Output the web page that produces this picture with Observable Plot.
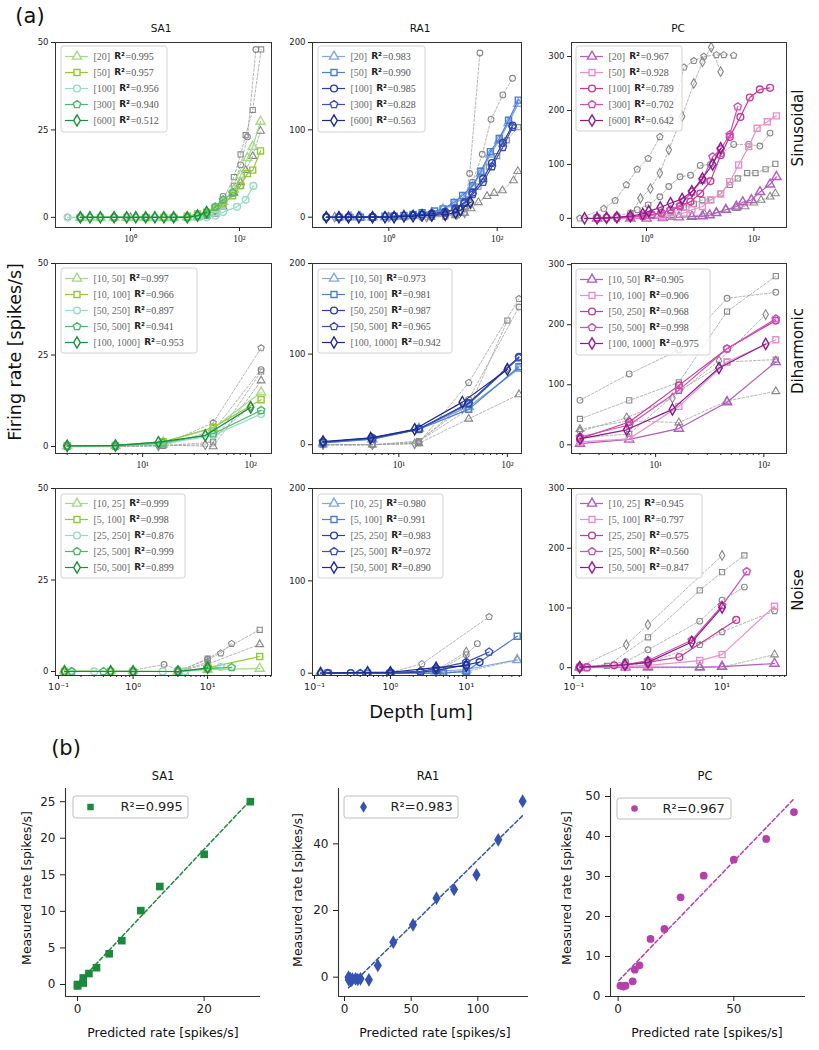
<!DOCTYPE html>
<html><head><meta charset="utf-8">
<script src="https://cdn.jsdelivr.net/npm/d3@7"></script>
<script src="https://cdn.jsdelivr.net/npm/@observablehq/plot@0.6"></script>
<style>
body{margin:0;background:#fff;}
#fig{position:relative;width:819px;height:1050px;overflow:hidden;font-family:"DejaVu Sans",sans-serif;color:#111;}
</style></head><body><div id="fig"></div>
<script>
// ---------- legend labels ----------
const sinRanges = ["[20]","[50]","[100]","[300]","[600]"];
const diRanges = ["[10, 50]","[10, 100]","[50, 250]","[50, 500]","[100, 1000]"];
const noiseRanges = ["[10, 25]","[5, 100]","[25, 250]","[25, 500]","[50, 500]"];
const sa1SinR2 = ["0.995","0.957","0.956","0.940","0.512"];
const ra1SinR2 = ["0.983","0.990","0.985","0.828","0.563"];
const pcSinR2  = ["0.967","0.928","0.789","0.702","0.642"];
const sa1DiR2  = ["0.997","0.966","0.897","0.941","0.953"];
const ra1DiR2  = ["0.973","0.981","0.987","0.965","0.942"];
const pcDiR2   = ["0.905","0.906","0.968","0.998","0.975"];
const sa1NoR2  = ["0.999","0.998","0.876","0.999","0.899"];
const ra1NoR2  = ["0.980","0.991","0.983","0.972","0.890"];
const pcNoR2   = ["0.945","0.797","0.575","0.560","0.847"];

// ---------- (a) SA1 Sinusoidal ----------
const sa1SinA = [[0.12,0],[0.18,0],[0.28,0],[0.5,0],[0.85,0],[1.25,0],[1.9,0],[2.8,0],[4.1,0],[6.2,0],[11,0],[17,0.3],[25,1],[36,2.5],[50,4.5],[79,8],[105,12],[140,17],[175,20.2],[243,27.4]];
const sa1SinB = [[0.12,0],[0.28,0],[0.85,0],[1.9,0],[4.1,0],[6.2,0],[11,0.3],[17,1],[25,1.5],[36,2.9],[50,3.8],[75,6.2],[105,9.1],[140,12.5],[175,13.5],[243,19]];
const sa1SinC = [[0.07,0],[0.12,0],[0.28,0],[0.85,0],[2.8,0],[6.2,0],[11,0],[17,0],[25,0],[36,0.5],[50,1.5],[90,3],[130,5],[180,9]];
const sa1SinD = [[0.12,0],[0.5,0],[1.9,0],[6.2,0],[11,0],[17,0.5],[25,1],[36,3],[50,5],[75,7]];
const sa1SinE = [[0.12,0],[0.18,0],[0.28,0],[0.5,0],[0.85,0],[1.25,0],[1.9,0],[2.8,0],[4.1,0],[6.2,0],[11,0],[17,0.5],[25,1.5]];
const sa1SinG1 = [[0.12,0],[0.5,0],[2,0],[6,0],[11,0],[17,0],[25,0.5],[36,2],[50,5],[79,11.5],[105,18],[130,23.5],[175,30.7],[250,48]];
const sa1SinG2 = [[0.07,0],[0.28,0],[1.25,0],[4.1,0],[11,0],[17,0],[25,0.5],[36,2.5],[50,6],[79,9],[105,15],[140,23],[200,48]];
const sa1SinG3 = [[0.12,0],[1,0],[4,0],[11,0],[17,0],[25,0.3],[36,1],[50,3],[79,7],[105,10],[130,13.5],[175,17.5],[243,24.7]];
const sa1SinG4 = [[0.18,0],[1.9,0],[11,0],[25,0.5],[36,2],[50,4],[79,7],[105,9]];
const sa1SinG5 = [[0.12,0],[0.85,0],[6.2,0],[17,0.5],[25,1],[36,2]];

// ---------- (a) RA1 Sinusoidal ----------
const ra1SinA = [[0.12,0],[0.2,0],[0.3,0],[0.5,0],[0.85,0],[1.25,1],[1.9,1],[2.8,2],[4.1,3],[6.2,5],[10,9],[16,15],[23,22],[35,35],[50,50],[75,72],[109,88],[162,108],[245,130]];
const ra1SinB = [[0.12,0],[0.3,0],[0.5,0],[0.85,1],[1.25,1],[1.9,2],[2.8,3],[4.1,5],[7,7],[10,9.5],[16,17],[23,25],[35,36],[50,52.6],[75,75],[109,90],[162,111],[245,134]];
const ra1SinC = [[0.07,0],[0.18,0],[0.5,0],[1.25,1],[2.8,2],[4.1,3],[6.2,4],[11,6],[17,10],[25,17],[35,28],[55,44],[80,62],[127,85],[192,105]];
const ra1SinD = [[0.12,0],[0.5,0],[1.25,1],[2.8,2],[6.2,3],[11,5],[17,9],[25,16],[35,26],[55,40],[80,58],[127,80],[192,103]];
const ra1SinE = [[0.07,0],[0.12,0],[0.18,0],[0.28,0],[0.5,0],[0.85,0],[1.25,0],[1.9,1],[2.8,1],[4.1,2],[6.2,2],[11,3],[17,5],[21,8],[32,17]];
const ra1SinG1 = [[0.07,0],[0.5,0],[2,0],[6,0],[11,1],[17,3],[25,10],[31,50],[48,188]];
const ra1SinG2 = [[0.12,0],[1,0],[4,0],[11,1],[17,3],[25,12],[35,40],[53,72],[77,112],[127,140],[192,159]];
const ra1SinG3 = [[0.12,0],[1,0],[6,0],[17,2],[25,5],[33,10],[45,17],[65,24],[88,27.6],[125,30.5],[200,42],[240,52.6]];
const ra1SinG4 = [[0.2,0],[2,0],[11,1],[20,5],[30,20],[45,35],[70,58],[100,70],[150,88],[245,103]];
const ra1SinG5 = [[0.1,0],[1,0],[5,0],[11,1],[18,3],[25,5],[32,15]];

// ---------- (a) PC Sinusoidal ----------
const pcSinA = [[0.12,0],[0.5,0],[1,0],[2,1],[4,2],[7,3],[11,4],[15,6],[20,10],[30,16],[47,22],[62,30],[90,34],[130,49],[200,63],[263,77]];
const pcSinB = [[0.12,0],[0.5,0],[1,1],[2,3],[3,5],[5,10],[7,16],[11,22],[15.5,34],[24,45],[35.5,68],[52,99],[80,133],[115,167],[178,179],[263,190]];
const pcSinC = [[0.12,1],[0.18,1],[0.28,2],[0.5,3],[0.85,5],[1.25,7],[1.9,10],[2.8,15],[4.2,22],[6.6,31],[10,46],[15.5,69],[24,117],[35.5,151],[56,188],[84,224],[129,239],[200,242]];
const pcSinD = [[0.12,0],[0.28,1],[0.5,2],[0.85,4],[1.25,6],[1.9,10],[2.8,16],[4.2,24],[5,33],[7,49],[11,71],[17,114],[24,128],[35.5,155],[50,207]];
const pcSinE = [[0.07,0],[0.12,0],[0.18,1],[0.28,2],[0.5,4],[0.85,8],[1.1,13],[1.8,20],[2.8,28],[4.6,36],[7,50],[11,74],[17,100],[24,130]];
const pcSinG1 = [[0.057,0],[0.16,18],[0.26,33],[0.42,62],[0.67,91],[1.07,111],[1.77,151],[2.8,185],[5,280],[7.6,292],[11.7,300],[20,303],[27.5,303],[42,302]];
const pcSinG2 = [[0.5,5],[0.77,37],[1.18,55],[1.77,84],[2.6,127],[4.6,189],[7.6,250],[11,290],[16,317],[24,272]];
const pcSinG3 = [[0.12,0],[0.28,5],[0.5,10],[0.67,16],[1.07,25],[1.77,40],[2.6,59],[4.2,77],[6.6,80],[10,98],[15.5,100],[25,120],[42,137],[80,137],[129,134],[200,158]];
const pcSinG4 = [[0.5,2],[1.07,5],[2.8,10],[5,20],[7.6,27],[11,34],[16,34],[24,46],[35.5,62],[50,74],[75,84],[107,84],[165,91],[251,101]];
const pcSinG5 = [[0.12,0],[1,0],[3,2],[7,4],[12,8],[20,10],[30,16],[47,19],[68,22],[100,29],[136,34],[200,40],[251,46]];

// ---------- (a) SA1 Diharmonic ----------
const sa1DiA = [[2,0.2],[5.6,0.3],[15.5,1.2],[45,5],[125,14.8]];
const sa1DiB = [[2,0.2],[5.6,0.3],[15.5,1.3],[45,5.2],[125,12.8]];
const sa1DiC = [[2,0.1],[5.6,0.2],[15.5,0.8],[45,3],[125,8.9]];
const sa1DiD = [[2,0.1],[5.6,0.2],[15.5,1],[45,3.5],[125,9.9]];
const sa1DiE = [[2,0.2],[5.6,0.3],[14,1.2],[38,3],[100,10.7]];
const sa1DiG1 = [[2,0],[5.6,0],[15.5,0.5],[45,6.5],[125,26.9]];
const sa1DiG2 = [[2,0],[5.6,0],[15.5,0.3],[45,4.3],[125,21]];
const sa1DiG3 = [[2,0],[5.6,0],[15.5,0.2],[45,1.2],[125,20.5]];
const sa1DiG4 = [[2,0],[5.6,0.2],[15.5,0.5],[45,0],[125,18]];
const sa1DiG5 = [[2,0],[5.6,0],[14,0.2],[38,0.5],[100,11]];

// ---------- (a) RA1 Diharmonic ----------
const ra1DiA = [[2,2],[5.7,6],[15.3,18],[44,42],[128,84]];
const ra1DiB = [[2,2],[5.7,6],[15.3,17],[44,39],[128,86]];
const ra1DiC = [[2,3],[5.7,7.4],[15.3,17.4],[44,46],[128,97]];
const ra1DiD = [[2,3],[5.7,7],[15.3,17],[44,45],[128,96]];
const ra1DiE = [[2,3.5],[5.5,7.5],[14,17],[38.5,47],[100,83]];
const ra1DiG1 = [[2,0],[5.7,0],[15.3,2],[44,68.5],[128,161]];
const ra1DiG2 = [[2,0],[5.7,0],[15.3,3],[44,50],[128,152]];
const ra1DiG3 = [[2,0],[5.7,0],[15.3,4],[44,39],[100,137]];
const ra1DiG4 = [[2,0],[5.7,0],[15.3,1.5],[44,28.5],[128,55.5]];
const ra1DiG5 = [[2,0],[5.7,0],[14,1],[38.5,40],[100,85]];

// ---------- (a) PC Diharmonic ----------
const pcDiA = [[2,2],[5.7,9],[16.4,27],[45.7,71],[129,138]];
const pcDiB = [[2,5],[5.7,10],[16.4,64],[45.7,138],[129,175]];
const pcDiC = [[2,10],[5.7,38],[16.4,99],[45.7,160],[129,207]];
const pcDiD = [[2,13],[5.7,33],[16.4,91],[45.7,160],[129,210]];
const pcDiE = [[2,10],[5.4,25],[14.3,59],[38.5,128],[104,168]];
const pcDiG1 = [[2,74],[5.7,118],[16.4,158],[45.7,244],[129,254]];
const pcDiG2 = [[2,43],[5.7,74],[16.4,104],[45.7,222],[129,281]];
const pcDiG3 = [[2,22],[5.4,45],[14.3,78],[38.5,140],[104,217]];
const pcDiG4 = [[2,26],[5.7,40],[16.4,37],[45.7,73],[129,89]];
const pcDiG5 = [[2,12],[5.7,18],[16.4,90],[45.7,138],[129,142]];

// ---------- (a) SA1 Noise ----------
const sa1NoA = [[0.12,0.3],[0.5,0.2],[1,0.2],[4,0],[10,0.5],[50,0.8]];
const sa1NoB = [[0.12,0],[0.5,0],[1,0],[5,0],[10,1],[50,4.1]];
const sa1NoC = [[0.15,0],[0.3,0],[1,0],[2.5,0],[5,0],[15,1.2]];
const sa1NoD = [[0.15,0],[0.4,0],[1,0],[4,0],[10,0.8],[21,1.1]];
const sa1NoE = [[0.12,0],[0.5,0],[1,0],[4,0],[10,1]];
const sa1NoG1 = [[0.12,0],[1,0],[4,0],[10,3.5],[50,11.4]];
const sa1NoG2 = [[0.12,0],[1,0],[4,0],[10,3.3],[15,5],[21,7.6]];
const sa1NoG3 = [[0.15,0],[1,0.3],[2.6,1.9],[4,0.5]];
const sa1NoG4 = [[0.12,0],[1,0],[4,0],[10,2],[50,7.4]];
const sa1NoG5 = [[0.12,0],[0.5,0],[1,0],[4,0],[10,2.5]];

// ---------- (a) RA1 Noise ----------
const ra1NoA = [[0.12,1],[0.5,0],[1,0],[4,2],[10,4],[47,14.5]];
const ra1NoB = [[0.15,0],[0.5,0],[1,0],[5,0],[10,2],[47,40]];
const ra1NoC = [[0.15,0],[0.3,0],[1,0],[2.5,1],[4,3],[10,9],[15,12]];
const ra1NoD = [[0.15,0],[0.4,0],[1,1],[2.5,2],[4,5],[10,12],[20,23]];
const ra1NoE = [[0.12,0],[0.5,1],[1,1],[4,6],[10,8]];
const ra1NoG1 = [[0.15,0],[0.4,0],[1,1],[2.6,10],[20,61]];
const ra1NoG2 = [[0.15,0],[1,0],[4,2],[10,20],[14,32]];
const ra1NoG3 = [[0.12,0],[1,0],[4,3],[10,23]];
const ra1NoG4 = [[0.12,0],[1,0],[5,1],[10,3]];
const ra1NoG5 = [[0.12,0],[1,0],[5,0],[10,2],[47,14]];

// ---------- (a) PC Noise ----------
const pcNoA = [[0.12,1],[0.5,1],[1,1],[5,1],[10,2],[51,7]];
const pcNoB = [[0.12,1],[0.5,2],[1,4],[5,12],[10,22],[51,103]];
const pcNoC = [[0.12,1],[0.15,1],[0.35,4],[1,9],[2.66,18],[15.5,80]];
const pcNoD = [[0.12,0],[0.15,0],[0.49,5],[1,12],[3.9,46],[10,104],[21.5,161]];
const pcNoE = [[0.12,1],[0.49,5],[1,9],[3.9,43],[10,101]];
const pcNoG1 = [[0.12,2],[0.51,38.5],[1,72],[10,188]];
const pcNoG2 = [[0.12,0],[0.28,3],[1,51],[5,129.5],[10,160],[20,188]];
const pcNoG3 = [[0.12,0],[0.5,10],[1,30],[5,78],[10,113],[20,135]];
const pcNoG4 = [[0.12,0],[0.5,3],[1,8],[5,38.5],[10,60],[51,95]];
const pcNoG5 = [[0.12,0],[0.5,0],[1,0],[5,0],[10,1],[51,22]];

// ---------- (b) predicted vs measured ----------
const sa1Pred = [0, 0, 0.9, 0.9, 1.8, 3, 5, 7, 10, 13, 20, 27.3];
const sa1Meas = [-0.2, 0, 0.2, 0.9, 1.5, 2.3, 4.2, 6, 10.1, 13.4, 17.8, 25];
const ra1Pred = [3, 3.2, 4.5, 5, 6, 8.3, 10, 12, 18.3, 25, 36.6, 51.4, 69, 82.2, 99, 115.3, 133.6];
const ra1Meas = [0, -0.8, -0.5, -1, -0.6, -0.5, -0.7, -0.5, -0.8, 3.5, 10.5, 15.7, 23.7, 26.3, 30.7, 41.2, 52.8];
const pcPred = [1, 2.2, 3.2, 6.3, 7.2, 9.2, 14, 20, 27, 37, 50, 64, 76];
const pcMeas = [2.7, 2.5, 2.7, 3.8, 6.7, 7.8, 14.4, 16.9, 24.8, 30.2, 34.2, 39.4, 46.1];
// fitted lines (end points)
const sa1Fit = [[0, 0.1], [27.3, 25.2]];
const ra1Fit = [[3, -3.2], [133.6, 48.5]];
const pcFit = [[0.3, 4], [76, 49.4]];
const bR2 = ["0.995", "0.983", "0.967"];

// ---------- styling ----------
const sa1Colors = ["#a3da8a", "#93c83a", "#95dcc6", "#4db86a", "#16913a"];
const ra1Colors = ["#82a8e0", "#4a7ed0", "#2a3ea8", "#3b4fb6", "#1c2a8e"];
const pcColors  = ["#b25cc0", "#e891c9", "#c8389a", "#d44fb2", "#8a1a8c"];

const pentagon = { draw(ctx, size) {
  const r = Math.sqrt(size / 2.3776);
  for (let i = 0; i < 5; i++) { const a = -Math.PI/2 + i*2*Math.PI/5; const x = r*Math.cos(a), y = r*Math.sin(a); if (i) ctx.lineTo(x, y); else ctx.moveTo(x, y); }
  ctx.closePath(); } };
const thinDiamond = { draw(ctx, size) {
  const h = Math.sqrt(size / 1.2), w = h * 0.6;
  ctx.moveTo(0, -h); ctx.lineTo(w, 0); ctx.lineTo(0, h); ctx.lineTo(-w, 0); ctx.closePath(); } };
const SYM = ["triangle", "square", "circle", pentagon, "diamond"];

const SUP = {"-":"⁻","0":"⁰","1":"¹","2":"²","3":"³"};
const pow10 = d => "10" + String(Math.round(Math.log10(d))).split("").map(c => SUP[c]).join("");

const fig = document.getElementById("fig");
const mctx = document.createElement("canvas").getContext("2d");
function textW(t, font) { mctx.font = font; return mctx.measureText(t).width; }
function place(el, left, top) { el.style.position = "absolute"; el.style.left = left + "px"; el.style.top = top + "px"; el.style.maxWidth = "none"; fig.appendChild(el); }
function label(text, cx, cy, size, rot, font, color) {
  const d = document.createElement("div");
  d.textContent = text;
  d.style.cssText = `position:absolute;left:${cx}px;top:${cy}px;white-space:nowrap;font-size:${size}px;line-height:1;transform:translate(-50%,-50%)${rot ? ` rotate(${rot}deg)` : ""};font-family:${font || '"DejaVu Sans"'};color:${color || "#111"}`;
  fig.appendChild(d);
}
const baseStyle = {fontFamily: '"DejaVu Sans", sans-serif', fontSize: "9px", color: "#222", background: "transparent", overflow: "visible"};
const X = d => d[0], Y = d => d[1];

function panelA(cfg) {
  const [l, r] = cfg.cols, [t, b] = cfg.rows;
  const ml = 42, mr = 4, mt = 4, mb = 26;
  const inDom = v => v >= cfg.xDomain[0] && v <= cfg.xDomain[1];
  const marks = [];
  cfg.grays.forEach(g => {
    marks.push(Plot.line(g.data, {x: X, y: Y, stroke: "#a2a2a2", strokeWidth: 0.8, strokeDasharray: "2.5,1.8", clip: true}));
    marks.push(Plot.dot(g.data, {x: X, y: Y, symbol: g.sym, r: 2.9, stroke: "#888", strokeWidth: 1.1, fill: "none", clip: true}));
  });
  cfg.series.forEach((s, i) => {
    marks.push(Plot.line(s, {x: X, y: Y, stroke: cfg.colors[i], strokeWidth: 1.2, clip: true}));
    marks.push(Plot.dot(s, {x: X, y: Y, symbol: SYM[i], r: 3.4, stroke: cfg.colors[i], strokeWidth: 1.4, fill: "none", clip: true}));
  });
  marks.push(Plot.frame({stroke: "#333", strokeWidth: 1}));
  marks.push(Plot.axisY({ticks: cfg.yTicks, tickSize: 4, tickPadding: 3, fontSize: 8.5, label: null}));
  marks.push(Plot.axisX({ticks: cfg.xTicks.filter(inDom), tickSize: 4, tickPadding: 4, tickFormat: pow10, fontSize: 9.5, fontFamily: cfg.xFont, label: null}));
  if (cfg.minor) marks.push(Plot.axisX({ticks: cfg.minor.filter(inDom), tickSize: 2, tickFormat: () => "", label: null}));
  const p = Plot.plot({
    width: r - l + ml + mr, height: b - t + mt + mb,
    marginLeft: ml, marginRight: mr, marginTop: mt, marginBottom: mb,
    x: {type: "log", domain: cfg.xDomain}, y: {domain: cfg.yDomain},
    style: baseStyle, marks
  });
  place(p, l - ml, t - mt);
  legendA(cfg.legend, cfg.ranges, cfg.r2, cfg.colors);
}

function legendA(box, ranges, r2, colors) {
  const [x0, y0, w, h] = box;
  const rangeFont = '10px "Liberation Serif"';
  const rFont = 'bold 9px "DejaVu Sans"';
  const entries = ranges.map((rg, i) => ({rg, r2: r2[i]}));
  const xR = d => 33 + textW(d.rg, rangeFont) + 4;
  const xEq = d => xR(d) + textW("R²", rFont) + 0.5;
  const marks = [Plot.frame({fill: "white", fillOpacity: 0.8, stroke: "#d2d2d2", rx: 2.5, inset: 0.5})];
  entries.forEach((e, i) => {
    marks.push(Plot.ruleY([e], {y: "rg", x1: 5, x2: 28, stroke: colors[i], strokeWidth: 1.2}));
    marks.push(Plot.dot([e], {y: "rg", x: 16.5, symbol: SYM[i], r: 3.4, stroke: colors[i], strokeWidth: 1.4, fill: "white"}));
  });
  marks.push(Plot.text(entries, {y: "rg", x: 33, text: "rg", textAnchor: "start", fill: "#6a6a6a", fontFamily: "Liberation Serif", fontSize: 10}));
  marks.push(Plot.text(entries, {y: "rg", x: xR, text: () => "R²", textAnchor: "start", fill: "#222", fontWeight: "bold", fontSize: 9}));
  marks.push(Plot.text(entries, {y: "rg", x: xEq, text: d => "=" + d.r2, textAnchor: "start", fill: "#555", fontFamily: "Liberation Serif", fontSize: 10}));
  const p = Plot.plot({width: w, height: h, margin: 0,
    x: {domain: [0, w], range: [0, w], axis: null},
    y: {type: "point", domain: ranges, range: [10, h - 11], padding: 0, axis: null},
    style: baseStyle, marks});
  place(p, x0, y0);
}

function panelB(cfg) {
  const ml = 48, mr = 6, mt = 4, mb = 26;
  const W = cfg.right - cfg.left + ml + mr, H = cfg.bottom - cfg.top + mt + mb;
  const pts = cfg.pred.map((v, i) => ({pv: v, mv: cfg.meas[i]}));
  const chart = Plot.plot({
    width: W, height: H,
    marginLeft: ml, marginRight: mr, marginTop: mt, marginBottom: mb,
    x: {type: "linear", domain: cfg.xDomain}, y: {type: "linear", domain: cfg.yDomain},
    style: baseStyle,
    marks: [
      Plot.ruleX([cfg.xDomain[0]], {stroke: "#333", strokeWidth: 1.1}),
      Plot.ruleY([cfg.yDomain[0]], {stroke: "#333", strokeWidth: 1.1}),
      Plot.line(cfg.fit, {x: X, y: Y, stroke: cfg.color, strokeWidth: 1.5, strokeDasharray: "4,2.5"}),
      Plot.dot(pts, {x: "pv", y: "mv", symbol: cfg.sym, r: cfg.size, fill: cfg.color}),
      Plot.axisX({ticks: cfg.xTicks, tickSize: 5, tickPadding: 3, fontSize: 12, label: null}),
      Plot.axisY({ticks: cfg.yTicks, tickSize: 5, tickPadding: 5, fontSize: 12, label: null})
    ]
  });
  place(chart, cfg.left - ml, cfg.top - mt);
  const [x0, y0, w, h] = cfg.legend;
  const lg = Plot.plot({width: w, height: h, margin: 0,
    x: {domain: [0, w], range: [0, w], axis: null}, y: {domain: [0, 1], range: [h, 0], axis: null},
    style: baseStyle,
    marks: [
      Plot.frame({fill: "white", stroke: "#bdbdbd", rx: 2.5, inset: 0.5}),
      Plot.dot([0], {x: cfg.legMarker, y: 0.5, symbol: cfg.sym, r: cfg.size * 0.85, fill: cfg.color}),
      Plot.text(["R²=" + cfg.r2], {x: cfg.legText, y: 0.5, text: d => d, textAnchor: "start", fontSize: 13, fill: "#222"})
    ]});
  place(lg, x0, y0);
}

// ---------- layout ----------
const COLS = {SA1: [55, 271], RA1: [312, 521], PC: [571, 786]};
const ROWS = {sin: [42, 227], di: [263, 453], noise: [488, 675]};
const minor2 = [2,3,4,5,6,7,8,9,20,30,40,50,60,70,80,90,200];
const minor3 = [0.2,0.3,0.4,0.5,0.6,0.7,0.8,0.9,2,3,4,5,6,7,8,9,20,30,40,50,60,70];
const serif = "Liberation Serif";

function safe(fn, y) { try { fn(); } catch (e) { label("ERR: " + e.message, 400, y, 10, 0, null, "red"); } }

safe(() => panelA({cols: COLS.SA1, rows: ROWS.sin, xDomain: [0.042, 387], yDomain: [-2.9, 50], yTicks: [0,25,50], xTicks: [1,100], xFont: serif,
  series: [sa1SinA, sa1SinB, sa1SinC, sa1SinD, sa1SinE], colors: sa1Colors,
  grays: [{data: sa1SinG1, sym: "square"}, {data: sa1SinG2, sym: "circle"}, {data: sa1SinG3, sym: "triangle"}, {data: sa1SinG4, sym: pentagon}, {data: sa1SinG5, sym: "diamond"}],
  legend: [60, 45, 107, 87], ranges: sinRanges, r2: sa1SinR2}), 100);
safe(() => panelA({cols: COLS.RA1, rows: ROWS.sin, xDomain: [0.039, 281], yDomain: [-11.8, 200], yTicks: [0,100,200], xTicks: [1,100], xFont: serif,
  series: [ra1SinA, ra1SinB, ra1SinC, ra1SinD, ra1SinE], colors: ra1Colors,
  grays: [{data: ra1SinG1, sym: "circle"}, {data: ra1SinG2, sym: "circle"}, {data: ra1SinG3, sym: "triangle"}, {data: ra1SinG4, sym: "square"}, {data: ra1SinG5, sym: "diamond"}],
  legend: [317, 45, 108, 87], ranges: sinRanges, r2: ra1SinR2}), 110);
safe(() => panelA({cols: COLS.PC, rows: ROWS.sin, xDomain: [0.04, 405], yDomain: [-17, 326], yTicks: [0,100,200,300], xTicks: [1,100], xFont: serif,
  series: [pcSinA, pcSinB, pcSinC, pcSinD, pcSinE], colors: pcColors,
  grays: [{data: pcSinG1, sym: pentagon}, {data: pcSinG2, sym: "diamond"}, {data: pcSinG3, sym: "circle"}, {data: pcSinG4, sym: "square"}, {data: pcSinG5, sym: "triangle"}],
  legend: [575, 45, 107, 86], ranges: sinRanges, r2: pcSinR2}), 120);

safe(() => panelA({cols: COLS.SA1, rows: ROWS.di, xDomain: [1.56, 156], yDomain: [-1.9, 50], yTicks: [0,25,50], xTicks: [10,100], minor: minor2, xFont: serif,
  series: [sa1DiA, sa1DiB, sa1DiC, sa1DiD, sa1DiE], colors: sa1Colors,
  grays: [{data: sa1DiG1, sym: pentagon}, {data: sa1DiG2, sym: "circle"}, {data: sa1DiG3, sym: "square"}, {data: sa1DiG4, sym: "triangle"}, {data: sa1DiG5, sym: "diamond"}],
  legend: [60, 267, 137, 86], ranges: diRanges, r2: sa1DiR2}), 300);
safe(() => panelA({cols: COLS.RA1, rows: ROWS.di, xDomain: [1.6, 135], yDomain: [-9.7, 200], yTicks: [0,100,200], xTicks: [10,100], minor: minor2, xFont: serif,
  series: [ra1DiA, ra1DiB, ra1DiC, ra1DiD, ra1DiE], colors: ra1Colors,
  grays: [{data: ra1DiG1, sym: pentagon}, {data: ra1DiG2, sym: "circle"}, {data: ra1DiG3, sym: "square"}, {data: ra1DiG4, sym: "triangle"}, {data: ra1DiG5, sym: "diamond"}],
  legend: [317, 268, 135, 85], ranges: diRanges, r2: ra1DiR2}), 310);
safe(() => panelA({cols: COLS.PC, rows: ROWS.di, xDomain: [1.67, 162], yDomain: [-14.5, 302], yTicks: [0,100,200,300], xTicks: [10,100], minor: minor2, xFont: serif,
  series: [pcDiA, pcDiB, pcDiC, pcDiD, pcDiE], colors: pcColors,
  grays: [{data: pcDiG1, sym: "circle"}, {data: pcDiG2, sym: "square"}, {data: pcDiG3, sym: "diamond"}, {data: pcDiG4, sym: "triangle"}, {data: pcDiG5, sym: "square"}],
  legend: [575, 268, 135, 87], ranges: diRanges, r2: pcDiR2}), 320);

safe(() => panelA({cols: COLS.SA1, rows: ROWS.noise, xDomain: [0.091, 72], yDomain: [-1.1, 50], yTicks: [0,25,50], xTicks: [0.1,1,10], minor: minor3, xFont: "DejaVu Sans",
  series: [sa1NoA, sa1NoB, sa1NoC, sa1NoD, sa1NoE], colors: sa1Colors,
  grays: [{data: sa1NoG1, sym: "square"}, {data: sa1NoG2, sym: pentagon}, {data: sa1NoG3, sym: "circle"}, {data: sa1NoG4, sym: "triangle"}, {data: sa1NoG5, sym: "diamond"}],
  legend: [60, 493, 125, 85], ranges: noiseRanges, r2: sa1NoR2}), 520);
safe(() => panelA({cols: COLS.RA1, rows: ROWS.noise, xDomain: [0.094, 53.5], yDomain: [-2.5, 200], yTicks: [0,100,200], xTicks: [0.1,1,10], minor: minor3, xFont: "DejaVu Sans",
  series: [ra1NoA, ra1NoB, ra1NoC, ra1NoD, ra1NoE], colors: ra1Colors,
  grays: [{data: ra1NoG1, sym: pentagon}, {data: ra1NoG2, sym: "circle"}, {data: ra1NoG3, sym: "diamond"}, {data: ra1NoG4, sym: "square"}, {data: ra1NoG5, sym: "triangle"}],
  legend: [317, 493, 126, 85], ranges: noiseRanges, r2: ra1NoR2}), 530);
safe(() => panelA({cols: COLS.PC, rows: ROWS.noise, xDomain: [0.093, 74], yDomain: [-13, 300], yTicks: [0,100,200,300], xTicks: [0.1,1,10], minor: minor3, xFont: "DejaVu Sans",
  series: [pcNoA, pcNoB, pcNoC, pcNoD, pcNoE], colors: pcColors,
  grays: [{data: pcNoG1, sym: "diamond"}, {data: pcNoG2, sym: "square"}, {data: pcNoG3, sym: "circle"}, {data: pcNoG4, sym: pentagon}, {data: pcNoG5, sym: "triangle"}],
  legend: [575, 493, 127, 85], ranges: noiseRanges, r2: pcNoR2}), 540);

safe(() => panelB({left: 65, top: 788, right: 260, bottom: 996, xDomain: [-1.9, 28.9], yDomain: [-1.64, 26.8], xTicks: [0, 20], yTicks: [0,5,10,15,20,25],
  pred: sa1Pred, meas: sa1Meas, fit: sa1Fit, color: "#1b8a3c", sym: "square", size: 4.3, legend: [72, 795, 116, 23], legMarker: 18, legText: 48, r2: bR2[0]}), 850);
safe(() => panelB({left: 338, top: 788, right: 528, bottom: 996, xDomain: [-4.5, 138], yDomain: [-5.8, 56.6], xTicks: [0, 50, 100], yTicks: [0,20,40],
  pred: ra1Pred, meas: ra1Meas, fit: ra1Fit, color: "#3552b3", sym: thinDiamond, size: 4.2, legend: [343, 795, 115, 23], legMarker: 20, legText: 47, r2: bR2[1]}), 870);
safe(() => panelB({left: 610, top: 788, right: 805, bottom: 996, xDomain: [-3.3, 81], yDomain: [0, 52], xTicks: [0, 50], yTicks: [0,10,20,30,40,50],
  pred: pcPred, meas: pcMeas, fit: pcFit, color: "#b540aa", sym: "circle", size: 3.9, legend: [616, 797, 115, 22], legMarker: 18, legText: 46, r2: bR2[2]}), 890);

// ---------- text ----------
label("(a)", 30, 16, 21);
label("SA1", 161, 28, 10.5);
label("RA1", 420, 28, 10.5);
label("PC", 678, 28, 10.5);
label("Sinusoidal", 798, 128, 15, -90);
label("Diharmonic", 798, 351, 15, -90);
label("Noise", 798, 590, 15, -90);
label("Firing rate [spikes/s]", 16, 352, 17.5, -90);
label("Depth [um]", 421, 712, 18);
label("(b)", 66, 748, 21);
label("SA1", 163, 777, 11.5);
label("RA1", 428, 777, 11.5);
label("PC", 705, 777, 11.5);
label("Measured rate [spikes/s]", 27, 888, 12.5, -90);
label("Measured rate [spikes/s]", 298, 890, 12.5, -90);
label("Measured rate [spikes/s]", 567, 888, 12.5, -90);
label("Predicted rate [spikes/s]", 163, 1033, 12.5);
label("Predicted rate [spikes/s]", 435, 1033, 12.5);
label("Predicted rate [spikes/s]", 707, 1033, 12.5);
</script></body></html>
